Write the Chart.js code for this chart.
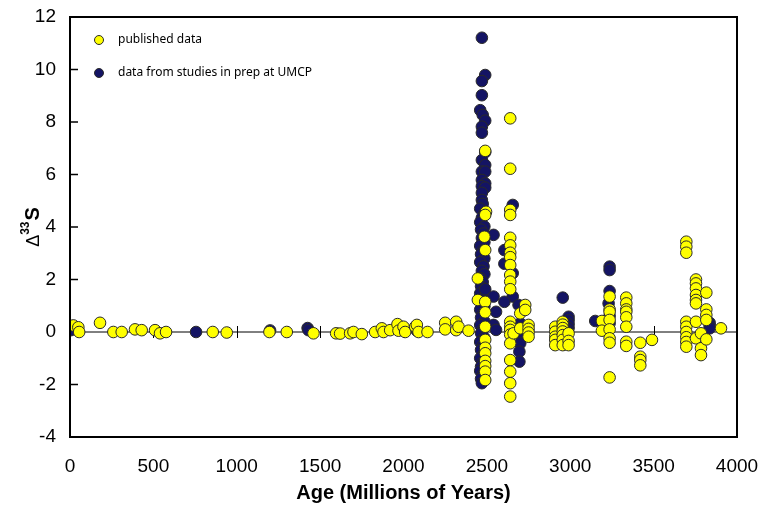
<!DOCTYPE html>
<html>
<head>
<meta charset="utf-8">
<script src="https://cdn.jsdelivr.net/npm/chart.js@4.4.1/dist/chart.umd.min.js"></script>
<style>
  html, body { margin: 0; padding: 0; background: #fff; }
  #wrap { width: 758px; height: 513px; }
</style>
</head>
<body>
<div id="wrap"><canvas id="chart" width="758" height="513"></canvas></div>
<script>
// --- Data ---
const ageTicks = [0, 500, 1000, 1500, 2000, 2500, 3000, 3500, 4000];
const d33Ticks = [-4, -2, 0, 2, 4, 6, 8, 10, 12];
const seriesLabels = ["published data", "data from studies in prep at UMCP"];

// [age (Ma), Δ33S]
const published = [
  [20, 0.25], [50, 0.18], [55, 0.0], [180, 0.35], [260, 0.0], [310, 0.0], [390, 0.1], [430, 0.07],
  [510, 0.07], [540, -0.05], [576, 0.0], [856, 0.0], [940, -0.02], [1196, 0.0], [1300, 0.0],
  [1460, -0.05], [1596, -0.05], [1620, -0.06], [1680, -0.05], [1700, 0.0], [1750, -0.08],
  [1830, 0.0], [1870, 0.14], [1880, 0.0], [1920, 0.07], [1964, 0.3], [1970, 0.05], [2000, 0.2],
  [2010, 0.0], [2070, 0.2], [2080, 0.27], [2090, 0.0], [2144, 0.0], [2250, 0.35], [2250, 0.1],
  [2316, 0.39], [2316, 0.07], [2330, 0.2], [2390, 0.05],
  [2446, 2.04], [2446, 1.22],
  [2490, 6.9], [2495, 4.58], [2490, 4.46], [2485, 3.63], [2490, 3.12], [2490, 1.15], [2490, 0.75],
  [2490, 0.2], [2490, -0.3], [2490, -0.6], [2490, -0.81], [2490, -1.1], [2490, -1.3], [2490, -1.51],
  [2490, -1.83],
  [2640, 8.14], [2640, 6.22], [2640, 4.65], [2640, 4.46], [2640, 3.59], [2640, 3.3], [2640, 3.02],
  [2640, 2.85], [2640, 2.55], [2640, 2.17], [2640, 1.92], [2640, 1.63], [2640, 0.39], [2640, 0.2],
  [2640, 0.08], [2640, -0.1], [2640, -0.43], [2640, -1.07], [2640, -1.51], [2640, -1.95], [2640, -2.46],
  [2660, -0.05], [2700, 0.71], [2700, 0.14], [2730, 1.03], [2730, 0.84], [2750, 0.27], [2750, 0.12],
  [2750, -0.02], [2750, -0.18],
  [2910, 0.2], [2910, 0.01], [2910, -0.18], [2910, -0.3], [2910, -0.5],
  [2955, 0.39], [2955, 0.28], [2955, 0.15], [2955, 0.02], [2955, -0.12], [2955, -0.3], [2955, -0.5],
  [2990, -0.05], [2990, -0.34], [2990, -0.5],
  [3190, 0.42], [3190, 0.05],
  [3236, 1.35], [3236, 0.86], [3236, 0.77], [3236, 0.46], [3236, 0.1], [3236, -0.24], [3236, -0.41],
  [3236, -1.73],
  [3336, 1.31], [3336, 1.09], [3336, 0.86], [3336, 0.77], [3336, 0.56], [3336, 0.2], [3336, -0.37],
  [3336, -0.53],
  [3420, -0.41], [3420, -0.94], [3420, -1.07], [3420, -1.27],
  [3490, -0.3],
  [3696, 3.44], [3696, 3.25], [3696, 3.02], [3696, 0.39], [3696, 0.2], [3696, 0.0], [3696, -0.2],
  [3696, -0.38], [3696, -0.56],
  [3754, 2.0], [3754, 1.85], [3754, 1.66], [3754, 1.41], [3754, 1.22], [3754, 1.09], [3754, 0.39],
  [3754, -0.24],
  [3784, -0.05], [3784, -0.62], [3784, -0.88],
  [3816, 1.5], [3816, 0.86], [3816, 0.65], [3816, 0.46], [3816, -0.28],
  [3904, 0.14]
];

const umcp = [
  [0, 0.2], [5, 0.07], [756, 0.0], [1200, 0.06], [1425, 0.15], [1430, 0.07], [2080, 0.05],
  [2470, 11.21], [2490, 9.79], [2470, 9.56], [2470, 9.02], [2460, 8.45], [2475, 8.27], [2490, 8.05],
  [2470, 7.82], [2470, 7.59], [2490, 6.85], [2470, 6.55], [2490, 6.36], [2470, 6.11], [2490, 6.11],
  [2470, 5.79], [2490, 5.66], [2470, 5.55], [2490, 5.5], [2470, 5.3], [2470, 5.03],
  [2475, 4.88], [2460, 4.7], [2485, 4.52], [2470, 4.35], [2460, 4.18], [2485, 4.02], [2465, 3.9],
  [2480, 3.75], [2470, 3.58], [2485, 3.42], [2460, 3.28], [2475, 3.1], [2465, 2.96], [2485, 2.8],
  [2460, 2.66], [2480, 2.5], [2470, 2.33], [2485, 2.2], [2460, 2.05], [2475, 1.9], [2465, 1.74],
  [2485, 1.6], [2460, 1.47], [2480, 1.3], [2470, 1.15], [2485, 0.98], [2460, 0.85], [2475, 0.7],
  [2465, 0.55], [2485, 0.4], [2460, 0.26], [2475, 0.1], [2465, -0.05], [2485, -0.22], [2460, -0.38],
  [2475, -0.52], [2465, -0.68], [2480, -0.85], [2460, -1.0], [2475, -1.15], [2465, -1.32],
  [2460, -1.48], [2475, -1.62], [2465, -1.78], [2470, -1.95],
  [2655, 4.84], [2540, 3.7], [2605, 3.12], [2605, 2.6], [2655, 2.24], [2490, 1.63], [2540, 1.35],
  [2655, 1.35], [2605, 1.15], [2690, 1.03], [2555, 0.77], [2540, 0.27], [2555, 0.08], [2700, 0.33],
  [2700, -0.11], [2700, -0.43], [2695, -0.75], [2695, -1.13],
  [2955, 1.31], [2990, 0.58], [2990, 0.45], [2990, 0.3], [2990, 0.15], [2985, 0.05],
  [3150, 0.42], [3236, 2.49], [3236, 2.36], [3236, 1.56], [3230, 1.09], [3236, 0.61], [3236, 0.33],
  [3836, 0.35], [3836, 0.25], [3836, 0.14]
];

const YELLOW = "#ffff00";
const NAVY = "#141464";
const EDGE = "#2a2a2a";

// --- Decorations: frame, zero line, inward ticks, legend, y title ---
const decorPlugin = {
  id: "decor",
  beforeDatasetsDraw(chart) {
    const { ctx, chartArea: a, scales } = chart;
    const y0 = scales.y.getPixelForValue(0);
    ctx.save();
    ctx.strokeStyle = "#000";
    ctx.lineWidth = 1;
    ctx.beginPath();
    ctx.moveTo(a.left, y0);
    ctx.lineTo(a.right, y0);
    ageTicks.forEach((v) => {
      const x = Math.round(scales.x.getPixelForValue(v)) + 0.5;
      ctx.moveTo(x, y0 - 6);
      ctx.lineTo(x, y0 + 6);
    });
    ctx.stroke();
    ctx.lineWidth = 1.5;
    ctx.beginPath();
    d33Ticks.forEach((v) => {
      const y = scales.y.getPixelForValue(v);
      ctx.moveTo(a.left, y);
      ctx.lineTo(a.left + 8, y);
    });
    ctx.stroke();
    ctx.restore();
  },
  afterDraw(chart) {
    const { ctx, chartArea: a } = chart;
    ctx.save();
    // frame
    ctx.strokeStyle = "#000";
    ctx.lineWidth = 2;
    ctx.strokeRect(a.left, a.top, a.right - a.left, a.bottom - a.top);

    // legend
    chart.data.datasets.forEach((ds, i) => {
      const cy = 40 + i * 33;
      ctx.beginPath();
      ctx.arc(99, cy, 4.5, 0, Math.PI * 2);
      ctx.fillStyle = ds.backgroundColor;
      ctx.fill();
      ctx.lineWidth = 1;
      ctx.strokeStyle = EDGE;
      ctx.stroke();
      ctx.fillStyle = "#000";
      ctx.font = "12px 'Noto Sans', sans-serif";
      ctx.textBaseline = "middle";
      ctx.textAlign = "left";
      ctx.fillText(ds.label, 118, cy);
    });

    // y axis title: Δ33S
    const cx = 32, cy = (a.top + a.bottom) / 2;
    ctx.translate(cx, cy);
    ctx.rotate(-Math.PI / 2);
    const fD = "18px 'Liberation Sans', Arial, sans-serif";
    const fSup = "bold 12px 'Liberation Sans', Arial, sans-serif";
    const fS = "bold 20px 'Liberation Sans', Arial, sans-serif";
    ctx.font = fD; const wD = ctx.measureText("\u0394").width;
    ctx.font = fSup; const wSup = ctx.measureText("33").width;
    ctx.font = fS; const wS = ctx.measureText("S").width;
    let x = -(wD + wSup + wS + 1) / 2;
    ctx.fillStyle = "#000";
    ctx.textAlign = "left";
    ctx.textBaseline = "alphabetic";
    ctx.font = fD; ctx.fillText("\u0394", x, 7); x += wD;
    ctx.font = fSup; ctx.fillText("33", x, -3); x += wSup + 1;
    ctx.font = fS; ctx.fillText("S", x, 7);
    ctx.restore();
  }
};

// --- Chart ---
function toPoints(rows) {
  return rows.map(([age, d]) => ({ x: age, y: d }));
}

const tickFont = { family: "'Liberation Sans', Arial, sans-serif", size: 19 };

new Chart(document.getElementById("chart"), {
  type: "scatter",
  data: {
    datasets: [
      {
        label: seriesLabels[0],
        data: toPoints(published),
        backgroundColor: YELLOW,
        borderColor: EDGE,
        borderWidth: 1,
        pointRadius: 5.8,
        pointHoverRadius: 5.8
      },
      {
        label: seriesLabels[1],
        data: toPoints(umcp),
        backgroundColor: NAVY,
        borderColor: EDGE,
        borderWidth: 1,
        pointRadius: 5.8,
        pointHoverRadius: 5.8
      }
    ]
  },
  options: {
    responsive: false,
    animation: false,
    layout: { padding: { top: 17, right: 21, left: 0, bottom: 0 } },
    scales: {
      x: {
        type: "linear",
        min: ageTicks[0],
        max: ageTicks[ageTicks.length - 1],
        afterBuildTicks: (s) => { s.ticks = ageTicks.map((v) => ({ value: v })); },
        afterFit: (s) => { s.height = 76; s.paddingLeft = 0; s.paddingRight = 0; },
        grid: { display: false, drawTicks: false },
        border: { display: false },
        ticks: {
          color: "#000", font: tickFont, padding: 18, autoSkip: false, maxRotation: 0,
          callback: (v) => String(v)
        },
        title: {
          display: true,
          text: "Age (Millions of Years)",
          color: "#000",
          font: { family: "'Liberation Sans', Arial, sans-serif", size: 20, weight: "bold" },
          padding: { top: 0, bottom: 8 }
        }
      },
      y: {
        type: "linear",
        min: d33Ticks[0],
        max: d33Ticks[d33Ticks.length - 1],
        afterBuildTicks: (s) => { s.ticks = d33Ticks.map((v) => ({ value: v })); },
        afterFit: (s) => { s.width = 70; s.paddingTop = 0; s.paddingBottom = 0; },
        grid: { display: false, drawTicks: false },
        border: { display: false },
        ticks: { color: "#000", font: tickFont, padding: 14, callback: (v) => String(v) }
      }
    },
    plugins: {
      legend: { display: false },
      tooltip: { enabled: false }
    }
  },
  plugins: [decorPlugin]
});
</script>
</body>
</html>
